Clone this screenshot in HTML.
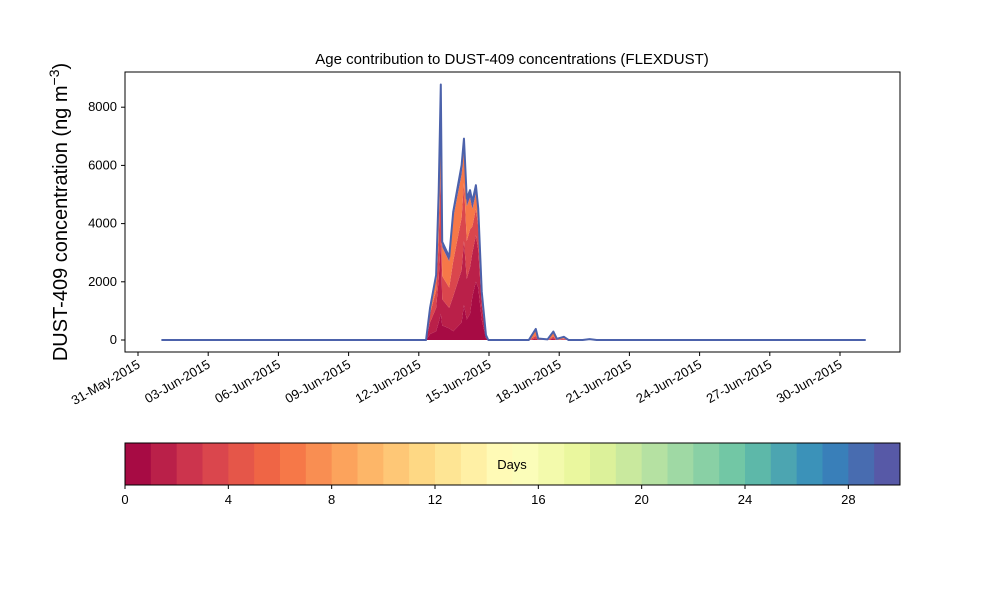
<!DOCTYPE html>
<html><head><meta charset="utf-8"><style>
body{margin:0;background:#fff;}
svg{display:block;font-family:"Liberation Sans","DejaVu Sans",sans-serif;}
</style></head><body>
<svg id="c" width="1000" height="600"></svg>
<script>
const times=[1,12.2,12.31,12.48,12.74,12.85,12.94,13.0,13.3,13.47,13.83,13.93,14.05,14.19,14.29,14.44,14.54,14.69,14.87,14.97,16.7,17.0,17.1,17.5,17.75,17.9,18.2,18.4,19.0,19.3,19.6,31.1];
const age0=[0,0,0,200,300,600,900,500,400,300,600,1200,700,900,1500,2000,1800,700,60,0,0,20,0,0,20,0,10,0,0,0,0,0];
const age1=[0,0,0,400,800,1500,2500,900,700,1200,1800,2200,1400,1600,1500,1600,1300,500,50,0,0,40,10,0,40,5,15,0,0,0,0,0];
const age2=[0,0,0,300,600,1300,2500,800,700,1200,1800,2000,1300,1300,900,900,800,250,30,0,0,80,10,0,60,5,20,0,0,0,0,0];
const age3=[0,0,0,150,430,1400,2400,1000,900,1500,1500,1100,1200,1100,600,550,400,130,20,0,0,200,20,10,140,20,45,0,0,0,0,0];
const ageOld=[0,0,0,50,100,290,480,175,160,200,310,420,260,250,250,270,220,80,10,0,0,40,10,10,30,10,20,0,0,30,0,0];
const layers=[age0,age1,age2,age3,ageOld];
const layerBins=[0,1,3,6,29];
const yTicks=[0,2000,4000,6000,8000];
const xTickDays=[0,3,6,9,12,15,18,21,24,27,30];
const xTickLabels=["31-May-2015","03-Jun-2015","06-Jun-2015","09-Jun-2015","12-Jun-2015","15-Jun-2015","18-Jun-2015","21-Jun-2015","24-Jun-2015","27-Jun-2015","30-Jun-2015"];
const cbTicks=[0,4,8,12,16,20,24,28];

const NS="http://www.w3.org/2000/svg";
const svg=document.getElementById('c');
function el(tag,attrs,parent){const e=document.createElementNS(NS,tag);for(const k in attrs)e.setAttribute(k,attrs[k]);(parent||svg).appendChild(e);return e;}
const X=d=>138+d*23.4;
const Y=v=>340-v*0.0291;
const anchors=["#9e0142","#d53e4f","#f46d43","#fdae61","#fee08b","#ffffbf","#e6f598","#abdda4","#66c2a5","#3288bd","#5e4fa2"];
function hex(h){return [1,3,5].map(i=>parseInt(h.substr(i,2),16));}
function spectral(t){const p=t*10,i=Math.min(9,Math.floor(p)),f=p-i;const a=hex(anchors[i]),b=hex(anchors[i+1]);return "rgb("+a.map((v,k)=>Math.round(v+(b[k]-v)*f)).join(",")+")";}
const binColor=i=>spectral((i+0.5)/30);

let t=el('text',{x:512,y:64,'text-anchor':'middle','font-size':15});t.textContent="Age contribution to DUST-409 concentrations (FLEXDUST)";

t=el('text',{transform:'translate(67,212) rotate(-90)','text-anchor':'middle','font-size':20});
t.innerHTML='DUST-409 concentration (ng m<tspan dy="-8" font-size="14">−3</tspan><tspan dy="8">)</tspan>';


const cum=times.map(()=>0);
layers.forEach((L,li)=>{
  const lo=cum.slice();
  L.forEach((v,i)=>cum[i]+=v);
  let d="M"+times.map((tt,i)=>X(tt)+","+Y(cum[i])).join("L");
  for(let i=times.length-1;i>=0;i--)d+="L"+X(times[i])+","+Y(lo[i]);
  const p=el('path',{d:d+"Z",fill:binColor(layerBins[li])});
  
  
});
const totalLine=el('path',{d:"M"+times.map((tt,i)=>X(tt)+","+Y(cum[i])).join("L"),fill:'none',stroke:'#4c62ab','stroke-width':2,'stroke-linejoin':'round'});



const fr=el('rect',{x:125,y:72,width:775,height:280,fill:'none',stroke:'#000','stroke-width':1});

yTicks.forEach(v=>{
  el('line',{x1:121,x2:125,y1:Y(v),y2:Y(v),stroke:'#000'});
  const tx=el('text',{x:117,y:Y(v)+4,'text-anchor':'end','font-size':13});tx.textContent=v;
  
});
xTickDays.forEach((dd,i)=>{
  el('line',{x1:X(dd),x2:X(dd),y1:352,y2:356,stroke:'#000'});
  const tx=el('text',{transform:`translate(${X(dd)+3},${367}) rotate(-30)`,'text-anchor':'end','font-size':13});tx.textContent=xTickLabels[i];
  
});

const cbW=775/30;
for(let i=0;i<30;i++){
  const r=el('rect',{x:125+i*cbW,y:443,width:cbW+0.5,height:42,fill:binColor(i)});
  
  
}
const cbf=el('rect',{x:125,y:443,width:775,height:42,fill:'none',stroke:'#000'});

t=el('text',{x:512,y:469,'text-anchor':'middle','font-size':13});t.textContent="Days";

cbTicks.forEach(v=>{
  const x=125+v*cbW;
  el('line',{x1:x,x2:x,y1:485,y2:489,stroke:'#000'});
  const tx=el('text',{x:x,y:504,'text-anchor':'middle','font-size':13});tx.textContent=v;
  
});
</script>
</body></html>
